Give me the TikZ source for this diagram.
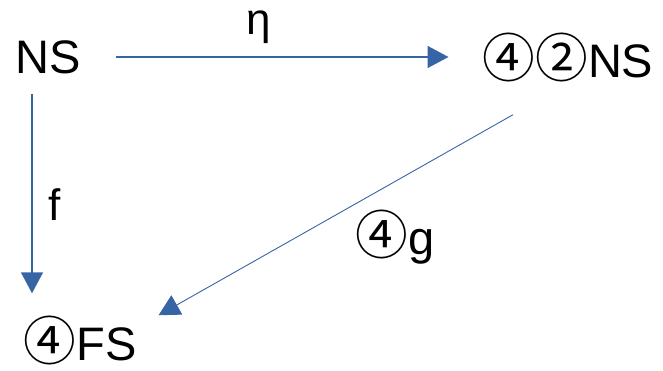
\documentclass[tikz,border=0pt]{standalone}
\usepackage{fontspec}
\setmainfont{Liberation Sans}
\newfontfamily\circfont[Scale=1.12]{Noto Sans CJK JP}
\usepackage{xcolor}
\usepackage{tikz}
\usetikzlibrary{calc,arrows.meta}
\definecolor{arrowblue}{RGB}{55, 100, 165}
\newcommand{\cnum}[1]{{\circfont #1}}

\begin{document}
\begin{tikzpicture}[x=1pt,y=-1pt,
  every node/.style={inner sep=0pt,font=\fontsize{47}{50}\selectfont},
  lbl/.style={font=\fontsize{44}{48}\selectfont},
  arr/.style={arrowblue,line width=1.6pt,-{Triangle[length=21pt,width=22pt]}},
  thinarr/.style={arrowblue,line width=0.9pt,-{Triangle[length=21pt,width=22pt]}}]
\useasboundingbox (0,0) rectangle (663,370);
\node (ns) at (48.5,57) {NS};
\node (nns) at (568,57) {\cnum{④}\cnum{②}NS};
\node (fs) at (80,340) {\cnum{④}FS};
\draw[arr,shorten <=35pt,shorten >=34pt] (ns.east) -- (nns.west);
\node[lbl] (eta) at (259,27) {η};
\draw[arr,shorten <=20pt] ([xshift=-16.5pt]ns.south) -- ([xshift=-16.5pt,yshift=22pt]ns.south |- fs.north);
\node[lbl] (f) at (55,205) {f};
\draw[thinarr] ([xshift=-55pt,yshift=-33pt]nns.south) -- ([xshift=22pt]fs.north east);
\node (g) at (395,237) {\cnum{④}g};
\end{tikzpicture}
\end{document}
